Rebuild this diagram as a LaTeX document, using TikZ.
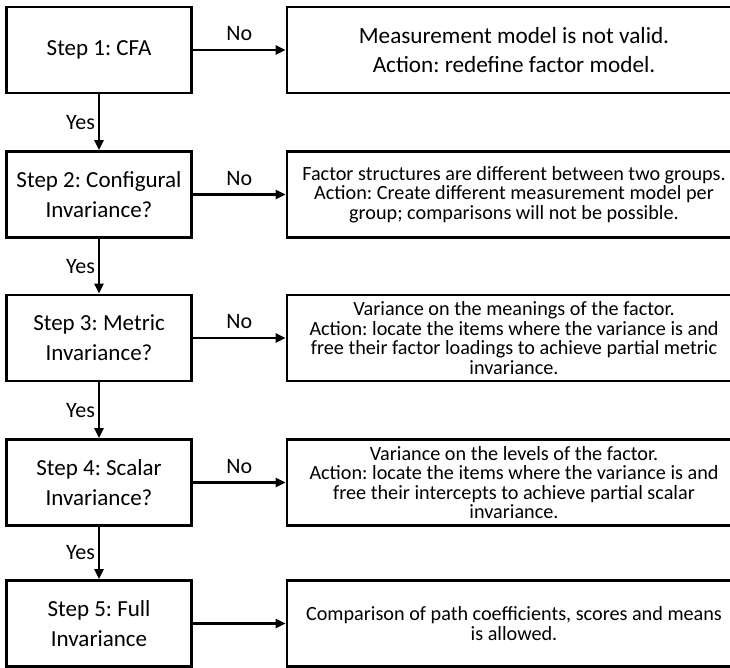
\documentclass[tikz,border=0pt]{standalone}
\usepackage{fontspec}
\setmainfont{Carlito}
\usetikzlibrary{arrows.meta}
\begin{document}
\frenchspacing
\begin{tikzpicture}[x=1pt,y=-1pt,
  stepbox/.style={draw, line width=2.8pt, minimum width=185pt, minimum height=86pt, inner sep=0pt, align=center, font=\fontsize{23}{30}\selectfont},
  resbox/.style={draw, line width=2.8pt, minimum width=454pt, minimum height=86pt, inner sep=0pt, align=center, font=\fontsize{20.2}{19.5}\selectfont},
  bigres/.style={resbox, font=\fontsize{23.2}{29}\selectfont},
  flow/.style={line width=2.2pt, -{Triangle[length=10pt,width=9pt]}},
  lbl/.style={font=\fontsize{22}{24}\selectfont, inner sep=0pt}]
\clip (0,0) rectangle (730,668);
\fill[white] (0,0) rectangle (730,668);
% left column
\node[stepbox] (s1) at (99,50) {Step 1: CFA};
\node[stepbox] (s2) at (99,194.5) {Step 2: Configural\\Invariance?};
\node[stepbox] (s3) at (99,338) {Step 3: Metric\\Invariance?};
\node[stepbox] (s4) at (99,482.5) {Step 4: Scalar\\Invariance?};
\node[stepbox] (s5) at (99,623.5) {Step 5: Full\\Invariance};
% right column
\node[bigres] (r1) at (514,50) {Measurement model is not valid.\\Action: redefine factor model.};
\node[resbox] (r2) at (514,194.5) {Factor structures are different between two groups.\\Action: Create different measurement model per\\group; comparisons will not be possible.};
\node[resbox] (r3) at (514,338) {Variance on the meanings of the factor.\\Action: locate the items where the variance is and\\free their factor loadings to achieve partial metric\\invariance.};
\node[resbox] (r4) at (514,482.5) {Variance on the levels of the factor.\\Action: locate the items where the variance is and\\free their intercepts to achieve partial scalar\\invariance.};
\node[resbox] (r5) at (514,623.5) {Comparison of path coefficients, scores and means\\is allowed.};
% horizontal arrows
\draw[flow] (s1.east) -- node[lbl, above=8pt] (n1) {No} (r1.west);
\draw[flow] (s2.east) -- node[lbl, above=8pt] (n2) {No} (r2.west);
\draw[flow] (s3.east) -- node[lbl, above=8pt] (n3) {No} (r3.west);
\draw[flow] (s4.east) -- node[lbl, above=8pt] (n4) {No} (r4.west);
\draw[flow] (s5.east) -- (r5.west);
% vertical arrows
\draw[flow] (s1.south) -- node[lbl, left=3pt] (y1) {Yes} (s2.north);
\draw[flow] (s2.south) -- node[lbl, left=3pt] (y2) {Yes} (s3.north);
\draw[flow] (s3.south) -- node[lbl, left=3pt] (y3) {Yes} (s4.north);
\draw[flow] (s4.south) -- node[lbl, left=3pt] (y4) {Yes} (s5.north);
\end{tikzpicture}
\end{document}
